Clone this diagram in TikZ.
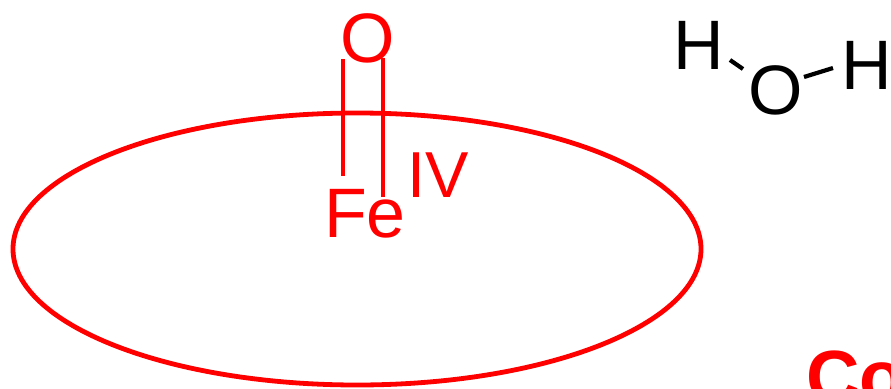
\documentclass[tikz,border=0pt]{standalone}
\usepackage{fontspec}
\setmainfont{Liberation Sans}
\definecolor{rd}{RGB}{255,0,0}
\tikzset{
  lab/.style={inner sep=0pt,anchor=base,font=\fontsize{70}{70}\selectfont},
  redlab/.style={lab,text=rd},
  bnd/.style={line width=4.8pt,rd},
  wbnd/.style={line width=4.2pt,black}
}
\begin{document}
\begin{tikzpicture}[x=1pt,y=-1pt]
\useasboundingbox (0,0) rectangle (891,388);
\draw[bnd] (357,249) ellipse [x radius=344,y radius=136];
\node[redlab] (o) at (368,62) {O};
\node[redlab] (fe) at (365,237) {Fe};
\node[redlab,anchor=base west,font=\fontsize{65}{65}\selectfont] (iv) at (407,197) {IV};
\coordinate (b1a) at (343,59);\coordinate (b1b) at (343,176);
\coordinate (b2a) at (383,58);\coordinate (b2b) at (383,197);
\draw[bnd] (b1a)--(b1b);
\draw[bnd] (b2a)--(b2b);
\node[lab] (h1) at (699,69) {H};
\node[lab] (o2) at (775.5,114) {O};
\node[lab,anchor=base west] (h2) at (841,89) {H};
\coordinate (w1) at (730,60);\coordinate (w2) at (743,69);
\coordinate (w3) at (804,77);\coordinate (w4) at (833,68);
\draw[wbnd] (w1)--(w2);
\draw[wbnd] (w3)--(w4);
\node[redlab,anchor=base west,font=\fontsize{74}{74}\selectfont\bfseries] (co) at (806,402) {Co};
\end{tikzpicture}
\end{document}
